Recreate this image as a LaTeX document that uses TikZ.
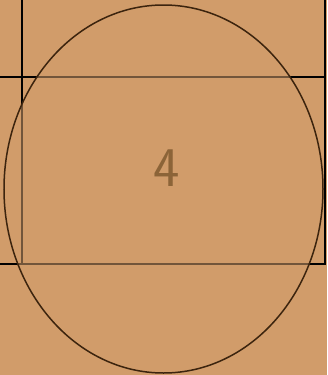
\documentclass[tikz,border=0pt]{standalone}
\usepackage{tikz}
\usetikzlibrary{shapes.geometric}
\definecolor{tanbg}{RGB}{209,156,106}
\definecolor{rimbrown}{RGB}{60,36,14}
\definecolor{digitbrown}{RGB}{140,100,56}
\tikzset{
    gridline/.style={line width=2pt, black},
    cellblob/.style={ellipse, draw=rimbrown, line width=1.5pt, fill=tanbg, fill opacity=0.55, draw opacity=1,
        minimum width=319pt, minimum height=368pt, inner sep=0pt},
    digit/.style={text=digitbrown, font=\sffamily\fontsize{56}{56}\selectfont, inner sep=0pt}
}
\begin{document}
\begin{tikzpicture}[x=1pt, y=-1pt]
    \fill[tanbg] (0,0) rectangle (327,375);
    \useasboundingbox (0,0) rectangle (327,375);
    % grid lines
    \draw[gridline] (22,0) -- (22,264);
    \draw[gridline] (325,0) -- (325,264);
    \draw[gridline] (0,77) -- (325,77);
    \draw[gridline] (0,264) -- (326,264);
    % cell shape and number
    \node[cellblob] (blob) at (163.5,189) {};
    \node[digit] (num) at (167,168) {4};
\end{tikzpicture}
\end{document}
